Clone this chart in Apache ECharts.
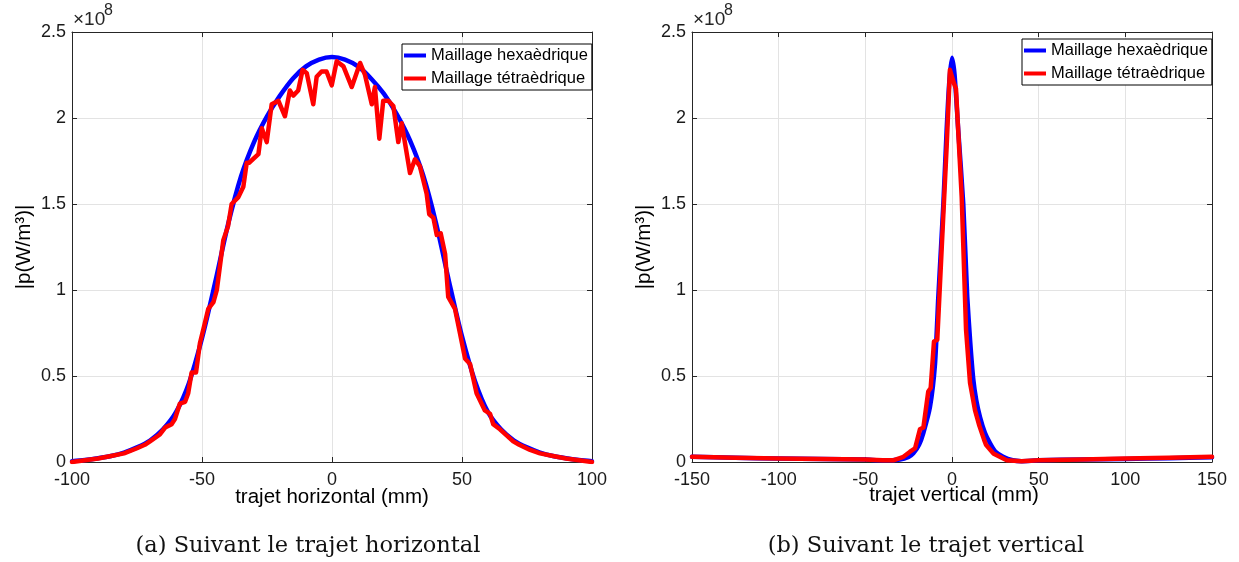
<!DOCTYPE html>
<html>
<head>
<meta charset="utf-8">
<script src="https://cdn.jsdelivr.net/npm/echarts@6/dist/echarts.min.js"></script>
<style>
html,body{margin:0;padding:0;background:#fff;}
#c{width:1239px;height:562px;}
</style>
</head>
<body>
<div id="c"></div>
<script>
// ---- Data (values in units of 1e8 W/m^3) ----
var seriesNames = ['Maillage hexaèdrique', 'Maillage tétraèdrique'];

// (a) horizontal path
var hexH_x = [-100,-95,-90,-85,-80,-75,-70,-65,-60,-55,-50,-45,-40,-35,-30,-25,-20,-15,-10,-5,0,5,10,15,20,25,30,35,40,45,50,55,60,65,70,75,80,85,90,95,100];
var hexH_y = [0.005,0.012,0.022,0.035,0.055,0.085,0.125,0.19,0.29,0.46,0.72,1.04,1.38,1.66,1.86,2.01,2.13,2.23,2.30,2.34,2.355,2.34,2.30,2.23,2.14,2.02,1.87,1.67,1.39,1.05,0.73,0.47,0.29,0.19,0.125,0.085,0.055,0.035,0.022,0.012,0.005];

var tetH_x = [-100,-95,-90,-85,-80,-75,-72,-70,-66.2,-64.2,-61.7,-60.4,-58.5,-56.5,-55.3,-54,-52.3,-50.8,-49.5,-47.6,-45.6,-44.3,-41.8,-40,-38.6,-36,-34.1,-32.8,-31.9,-28.3,-27,-25.1,-23.2,-20.6,-18.1,-16.2,-14.9,-13,-11.3,-9.7,-7.2,-5.9,-4,-2.1,-0.1,1.8,4.4,7.6,10.8,12.7,15.3,16.5,18.2,19.7,21.7,23.6,25.5,26.8,30,31.9,33.8,36.4,37.4,39,40.3,41.8,43.5,44.7,47.3,49.2,51.2,53.1,55.6,58.8,60.8,62,64.6,69.7,72,76.2,80,85,90,95,100];
var tetH_y = [0.0,0.01,0.02,0.035,0.05,0.08,0.10,0.12,0.16,0.20,0.22,0.25,0.34,0.35,0.40,0.52,0.52,0.69,0.77,0.89,0.93,1.0,1.29,1.37,1.50,1.54,1.60,1.74,1.74,1.79,1.94,1.86,2.08,2.10,2.01,2.16,2.13,2.16,2.28,2.26,2.08,2.24,2.27,2.27,2.19,2.33,2.30,2.18,2.32,2.25,2.08,2.18,1.88,2.10,2.10,2.07,1.86,1.97,1.68,1.76,1.72,1.56,1.44,1.42,1.32,1.33,1.21,0.96,0.89,0.75,0.60,0.57,0.40,0.30,0.28,0.22,0.19,0.12,0.10,0.07,0.05,0.035,0.02,0.01,0.0];

// (b) vertical path
var hexV_x = [-150,-125,-100,-75,-50,-40,-30,-25,-22.3,-19,-16.5,-12.7,-9.8,-7.9,-5,-3.1,-1.5,0,1.5,3.6,6.5,8.8,10.5,12.3,14,16.2,19,21.9,25,29.5,35,40,50,75,100,125,150];
var hexV_y = [0.03,0.025,0.02,0.018,0.014,0.01,0.015,0.03,0.05,0.10,0.17,0.32,0.57,0.96,1.50,1.93,2.22,2.35,2.25,1.93,1.50,0.96,0.70,0.48,0.36,0.26,0.17,0.11,0.06,0.03,0.01,0.005,0.01,0.015,0.018,0.022,0.028];

var tetV_x = [-150,-125,-100,-75,-50,-40,-33.9,-28,-24.2,-21.3,-18.5,-16.5,-13.7,-12.3,-10.4,-8.5,-5.9,-3.1,-1.2,1.2,2.3,5.6,8.1,10.4,13.3,15.8,18.5,19.6,23.8,31.6,40,50,75,100,125,150];
var tetV_y = [0.03,0.025,0.02,0.018,0.015,0.01,0.01,0.03,0.06,0.08,0.19,0.20,0.41,0.43,0.70,0.71,1.25,1.83,2.28,2.20,2.17,1.54,0.77,0.46,0.30,0.21,0.13,0.10,0.05,0.01,0.005,0.01,0.015,0.02,0.025,0.03];

var yTicks = {min: 0, max: 2.5, interval: 0.5};
var xTicksA = {min: -100, max: 100, interval: 50};
var xTicksB = {min: -150, max: 150, interval: 50};

var texts = {
  yName: '|p(W/m³)|',
  xNameA: 'trajet horizontal (mm)',
  xNameB: 'trajet vertical (mm)',
  capA: '(a) Suivant le trajet horizontal',
  capB: '(b) Suivant le trajet vertical',
  expBase: '×10',
  expPow: '8'
};

function pairs(xs, ys){ return xs.map(function(x,i){ return [x, ys[i]]; }); }

var AX = '#262626', GRID = '#e3e3e3', SANS = 'Liberation Sans, Arial, sans-serif';

function xAx(gi, t, top){
  return {
    type: 'value', gridIndex: gi, position: top ? 'top' : 'bottom',
    min: t.min, max: t.max, interval: t.interval,
    axisLine: {show: true, onZero: false, lineStyle: {color: AX, width: 1}},
    axisTick: {show: true, inside: true, length: 5, lineStyle: {color: AX}},
    axisLabel: {show: !top, margin: 9, color: '#1a1a1a', fontSize: 18, fontFamily: SANS},
    splitLine: {show: !top, lineStyle: {color: GRID, width: 1}}
  };
}
function yAx(gi, right){
  return {
    type: 'value', gridIndex: gi, position: right ? 'right' : 'left',
    min: yTicks.min, max: yTicks.max, interval: yTicks.interval,
    axisLine: {show: true, onZero: false, lineStyle: {color: AX, width: 1}},
    axisTick: {show: true, inside: true, length: 5, lineStyle: {color: AX}},
    axisLabel: {show: !right, margin: 6, color: '#1a1a1a', fontSize: 18, fontFamily: SANS},
    splitLine: {show: !right, lineStyle: {color: GRID, width: 1}}
  };
}
function line(name, color, data, xi, yi, smooth){
  return {
    type: 'line', name: name, xAxisIndex: xi, yAxisIndex: yi,
    data: data, showSymbol: false, symbol: 'none', smooth: smooth, animation: false,
    lineStyle: {color: color, width: 4.5, cap: 'round', join: 'round'},
    itemStyle: {color: color}
  };
}
function legend(left, top){
  return {
    left: left, top: top, orient: 'vertical',
    data: seriesNames.map(function(n){ return {name: n, icon: 'rect'}; }),
    itemWidth: 22, itemHeight: 4, itemGap: 6, itemTextGap: 2,
    padding: [3, 4, 3, 2],
    backgroundColor: '#fff', borderColor: '#000', borderWidth: 1, borderRadius: 0,
    textStyle: {fontSize: 16.5, fontFamily: SANS, color: '#000', lineHeight: 17},
    selectedMode: false
  };
}
function txt(x, y, s, size, opts){
  opts = opts || {};
  return {
    type: 'text', x: x, y: y, rotation: opts.rot || 0, silent: true,
    style: {text: s, fontSize: size, fontFamily: opts.font || SANS, fill: opts.fill || '#000',
            textAlign: opts.align || 'center', textVerticalAlign: 'middle'}
  };
}

var chart = echarts.init(document.getElementById('c'), null, {renderer: 'canvas'});
chart.setOption({
  animation: false,
  backgroundColor: '#fff',
  grid: [
    {left: 72, top: 32, width: 520, height: 430},
    {left: 692, top: 32, width: 520, height: 430}
  ],
  xAxis: [xAx(0, xTicksA, false), xAx(0, xTicksA, true), xAx(1, xTicksB, false), xAx(1, xTicksB, true)],
  yAxis: [yAx(0, false), yAx(0, true), yAx(1, false), yAx(1, true)],
  legend: [legend(402, 44), legend(1022, 39)],
  series: [
    line(seriesNames[0], '#0000ff', pairs(hexH_x, hexH_y), 0, 0, 0.3),
    line(seriesNames[1], '#ff0000', pairs(tetH_x, tetH_y), 0, 0, false),
    line(seriesNames[0], '#0000ff', pairs(hexV_x, hexV_y), 2, 2, 0.2),
    line(seriesNames[1], '#ff0000', pairs(tetV_x, tetV_y), 2, 2, false)
  ],
  graphic: [
    txt(73, 20, texts.expBase, 19, {align: 'left', fill: '#262626'}),
    txt(104, 11, texts.expPow, 16, {align: 'left', fill: '#262626'}),
    txt(693, 20, texts.expBase, 19, {align: 'left', fill: '#262626'}),
    txt(724, 11, texts.expPow, 16, {align: 'left', fill: '#262626'}),
    txt(24, 247, texts.yName, 20.5, {rot: Math.PI / 2}),
    txt(644, 247, texts.yName, 20.5, {rot: Math.PI / 2}),
    txt(332, 497, texts.xNameA, 20.5),
    txt(954, 495, texts.xNameB, 20.5),
    txt(308, 546, texts.capA, 22.5, {font: 'DejaVu Serif, serif', fill: '#111'}),
    txt(926, 546, texts.capB, 22.5, {font: 'DejaVu Serif, serif', fill: '#111'})
  ]
});
</script>
</body>
</html>
